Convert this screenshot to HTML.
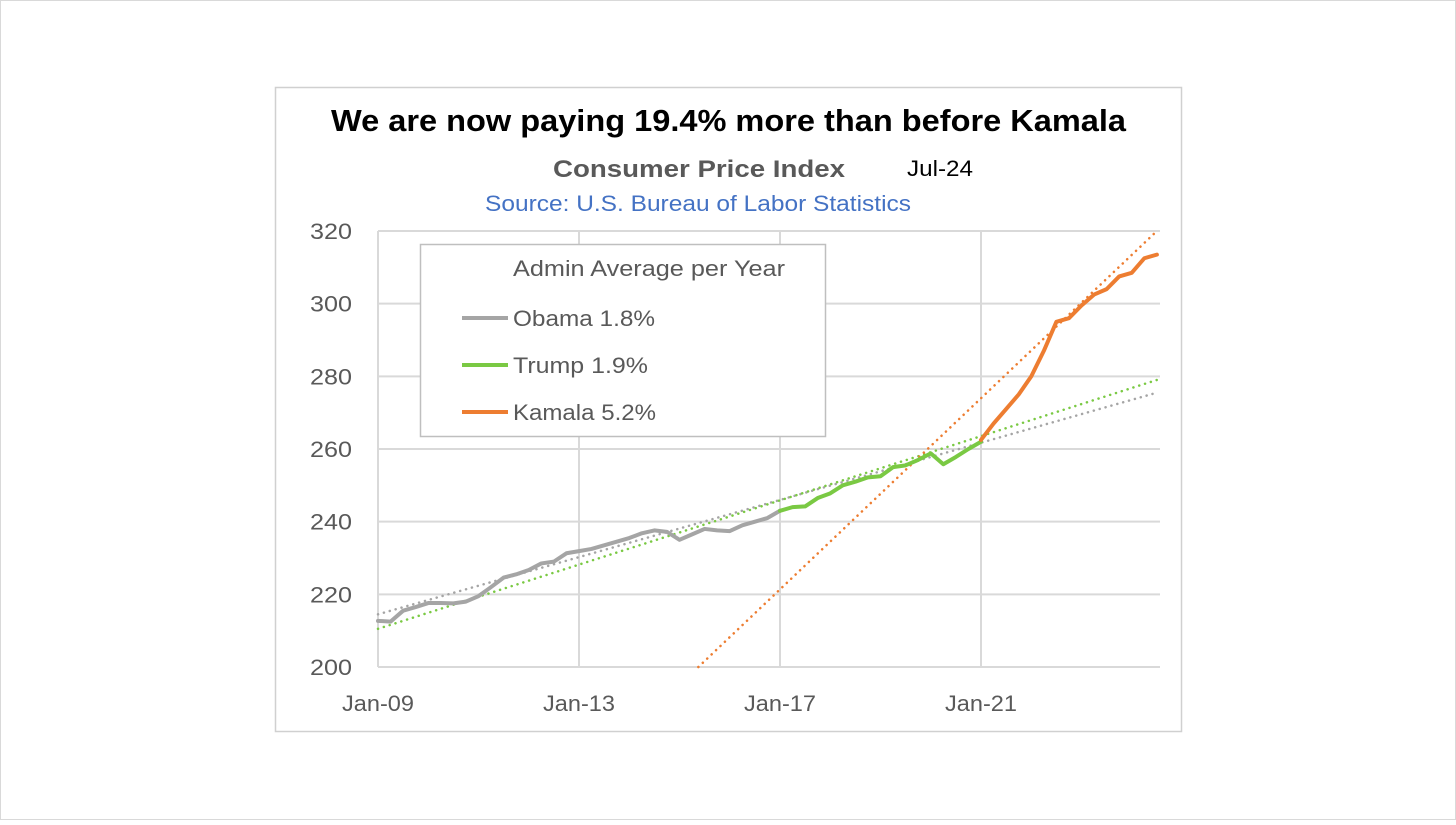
<!DOCTYPE html>
<html><head><meta charset="utf-8"><style>
body{margin:0;background:#fff;}
svg text{font-family:"Liberation Sans",sans-serif;}
</style></head><body>
<svg width="1456" height="820" viewBox="0 0 1456 820" xmlns="http://www.w3.org/2000/svg">
<rect x="0.5" y="0.5" width="1455" height="819" fill="#fff" stroke="#d9d9d9"/>
<rect x="275.5" y="87.5" width="906" height="644" fill="#fff" stroke="#d0d0d0" stroke-width="1.5"/>
<text x="331" y="131" font-size="31" font-weight="bold" fill="#000" textLength="795" lengthAdjust="spacingAndGlyphs">We are now paying 19.4% more than before Kamala</text>
<text x="553" y="177" font-size="24" font-weight="bold" fill="#595959" textLength="292" lengthAdjust="spacingAndGlyphs">Consumer Price Index</text>
<text x="907" y="176" font-size="22" fill="#000" textLength="66" lengthAdjust="spacingAndGlyphs">Jul-24</text>
<text x="485" y="211" font-size="22" fill="#4472c4" textLength="426" lengthAdjust="spacingAndGlyphs">Source: U.S. Bureau of Labor Statistics</text>
<g id="grid"></g>
<g id="axes"></g>
<g id="series"></g>
<g>
<rect x="420.5" y="244.5" width="405" height="192" fill="#fff" stroke="#bfbfbf" stroke-width="1.5"/>
<text x="513" y="276" font-size="22" fill="#595959" textLength="272" lengthAdjust="spacingAndGlyphs">Admin Average per Year</text>
<line x1="462" y1="318" x2="508" y2="318" stroke="#a5a5a5" stroke-width="4"/>
<text x="513" y="326" font-size="22" fill="#595959" textLength="142" lengthAdjust="spacingAndGlyphs">Obama 1.8%</text>
<line x1="462" y1="365" x2="508" y2="365" stroke="#7ac943" stroke-width="4"/>
<text x="513" y="373" font-size="22" fill="#595959" textLength="135" lengthAdjust="spacingAndGlyphs">Trump 1.9%</text>
<line x1="462" y1="412" x2="508" y2="412" stroke="#ed7d31" stroke-width="4"/>
<text x="513" y="420" font-size="22" fill="#595959" textLength="143" lengthAdjust="spacingAndGlyphs">Kamala 5.2%</text>
</g>
</svg>
<script>
// months since Jan-09, CPI values
const obamaMonths=[0,3,6,9,12,15,18,21,24,27,30,33,36,39,42,45,48,51,54,57,60,63,66,69,72,75,78,81,84,87,90,93,96];
const obamaValues=[212.7,212.5,215.5,216.5,217.6,217.6,217.5,218,219.5,222,224.6,225.5,226.7,228.5,229,231.3,231.9,232.5,233.5,234.5,235.5,236.8,237.6,237.2,235,236.5,238,237.6,237.4,239,240,241,243];
const trumpMonths=[96,99,102,105,108,111,114,117,120,123,126,129,132,135,138,141,144];
const trumpValues=[243,244,244.2,246.5,247.8,250,251,252.2,252.5,255,255.5,257,258.8,255.8,257.8,260,262];
const kamalaMonths=[144,147,150,153,156,159,162,165,168,171,174,177,180,183,186];
const kamalaValues=[262.5,267,271,275,280,287,295,296,299.5,302.5,304,307.5,308.5,312.5,313.5];
// trendline endpoints (month, value)
const obamaTrendMonths=[0,186];
const obamaTrendValues=[214.5,275.5];
const trumpTrendMonths=[0,186];
const trumpTrendValues=[210.5,279];
const kamalaTrendMonths=[76.5,186];
const kamalaTrendValues=[200,320];
const yTicks=[200,220,240,260,280,300,320];
const xTickMonths=[0,48,96,144];
const xTickLabels=["Jan-09","Jan-13","Jan-17","Jan-21"];
const X0=378,PX_PER_M=201/48,Y0=667,Y1=231,VMIN=200,VMAX=320,XEND=1160;
const xs=m=>X0+m*PX_PER_M;
const ys=v=>Y0-(v-VMIN)/(VMAX-VMIN)*(Y0-Y1);
const NS="http://www.w3.org/2000/svg";
function mk(tag,attrs,parent){const e=document.createElementNS(NS,tag);for(const k in attrs)e.setAttribute(k,attrs[k]);parent.appendChild(e);return e;}
const grid=document.getElementById('grid'),axes=document.getElementById('axes'),series=document.getElementById('series');
yTicks.forEach(v=>{
  const l=mk('line',{x1:X0,x2:XEND,y1:ys(v),y2:ys(v),stroke:'#d9d9d9','stroke-width':2},grid);
  
  
  const t=mk('text',{x:352,y:ys(v)+8,'text-anchor':'end','font-size':22,fill:'#595959',textLength:42,lengthAdjust:'spacingAndGlyphs'},axes);
  t.textContent=v;
  
  
});
xTickMonths.forEach((m,i)=>{
  const l=mk('line',{x1:xs(m),x2:xs(m),y1:Y1,y2:Y0,stroke:'#d9d9d9','stroke-width':2},grid);
  
  
  const t=mk('text',{x:xs(m)-36,y:711,'font-size':22,fill:'#595959',textLength:72,lengthAdjust:'spacingAndGlyphs'},axes);
  t.textContent=xTickLabels[i];
  
  
});
function trend(ms,vs,color,name){
  const l=mk('line',{x1:xs(ms[0]),y1:ys(vs[0]),x2:xs(ms[1]),y2:ys(vs[1]),stroke:color,'stroke-width':2.5,'stroke-dasharray':'0.1 6','stroke-linecap':'round'},series);
  
  
}
trend(obamaTrendMonths,obamaTrendValues,'#a5a5a5','obama-trendline');
trend(trumpTrendMonths,trumpTrendValues,'#7ac943','trump-trendline');
trend(kamalaTrendMonths,kamalaTrendValues,'#ed7d31','kamala-trendline');
function line(ms,vs,color,name){
  const p=mk('polyline',{points:ms.map((m,i)=>xs(m)+','+ys(vs[i])).join(' '),fill:'none',stroke:color,'stroke-width':4,'stroke-linejoin':'round','stroke-linecap':'round'},series);
  
  
}
line(obamaMonths,obamaValues,'#a5a5a5','obama-line');
line(trumpMonths,trumpValues,'#7ac943','trump-line');
line(kamalaMonths,kamalaValues,'#ed7d31','kamala-line');
</script>
</body></html>
